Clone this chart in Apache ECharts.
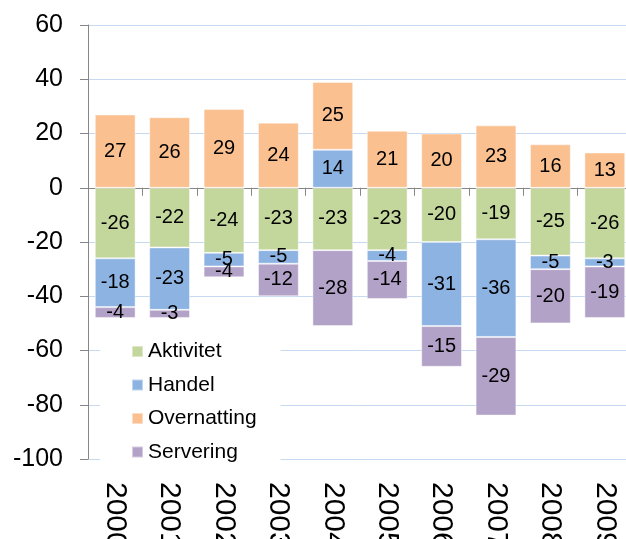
<!DOCTYPE html>
<html>
<head>
<meta charset="utf-8">
<script src="https://cdn.jsdelivr.net/npm/echarts@6/dist/echarts.min.js"></script>
<style>
  html, body { margin: 0; padding: 0; background: #fff; }
  #chart { width: 626px; height: 539px; }
</style>
</head>
<body>
<div id="chart"></div>
<script>
// Years on the category axis
const years = ['2000', '2001', '2002', '2003', '2004', '2005', '2006', '2007', '2008', '2009'];

// Contribution per component
const aktivitet   = [-26, -22, -24, -23, -23, -23, -20, -19, -25, -26];
const handel      = [-18, -23, -5, -5, 14, -4, -31, -36, -5, -3];
const overnatting = [27, 26, 29, 24, 25, 21, 20, 23, 16, 13];
const servering   = [-4, -3, -4, -12, -28, -14, -15, -29, -20, -19];

// Value axis ticks
const yMin = -100, yMax = 60, yStep = 20;

const FONT = "'Liberation Sans', Arial, sans-serif";

const seriesDefs = [
  { name: 'Aktivitet',   data: aktivitet,   color: '#c3d69b' },
  { name: 'Handel',      data: handel,      color: '#8db3e2' },
  { name: 'Overnatting', data: overnatting, color: '#fac090' },
  { name: 'Servering',   data: servering,   color: '#b3a2c7' }
];

const chart = echarts.init(document.getElementById('chart'), null, { renderer: 'canvas' });

chart.setOption({
  animation: false,
  backgroundColor: '#ffffff',
  textStyle: { fontFamily: FONT },
  grid: {
    left: 88, right: -6, top: 25, bottom: 80,
    containLabel: false,
    outerBoundsMode: 'none'
  },
  legend: {
    orient: 'vertical',
    left: 100,
    top: 336,
    padding: [5, 24, 4, 31],
    backgroundColor: '#ffffff',
    itemWidth: 11,
    itemHeight: 11,
    itemGap: 12.5,
    icon: 'rect',
    textStyle: { fontFamily: FONT, fontSize: 21, color: '#000', lineHeight: 20 },
    data: seriesDefs.map(s => s.name)
  },
  xAxis: [
    {
      type: 'category',
      data: years,
      axisLine: { onZero: true, lineStyle: { color: '#868686', width: 1 } },
      axisTick: { show: true, length: 8, lineStyle: { color: '#868686' } },
      axisLabel: { show: false },
      splitLine: { show: false }
    },
    {
      type: 'category',
      data: years,
      position: 'bottom',
      axisLine: { show: false, onZero: false },
      axisTick: { show: false },
      axisLabel: {
        rotate: -90,
        margin: 23,
        fontSize: 30,
        color: '#000',
        fontFamily: FONT,
        interval: 0
      }
    }
  ],
  yAxis: {
    type: 'value',
    min: yMin,
    max: yMax,
    interval: yStep,
    axisLine: { show: true, lineStyle: { color: '#868686', width: 1 } },
    axisTick: { show: true, length: 8, lineStyle: { color: '#868686' } },
    axisLabel: { fontSize: 25, color: '#000', margin: 25, fontFamily: FONT },
    splitLine: { show: true, lineStyle: { color: '#c6d9f1', width: 1 } }
  },
  series: seriesDefs.map(s => ({
    name: s.name,
    type: 'bar',
    stack: 'total',
    xAxisIndex: 0,
    barCategoryGap: '25%',
    data: s.data,
    itemStyle: { color: s.color, borderColor: 'rgba(255,255,255,0.45)', borderWidth: 1 },
    label: {
      show: true,
      position: 'inside',
      fontSize: 20,
      color: '#000',
      fontFamily: FONT
    }
  }))
});
</script>
</body>
</html>
